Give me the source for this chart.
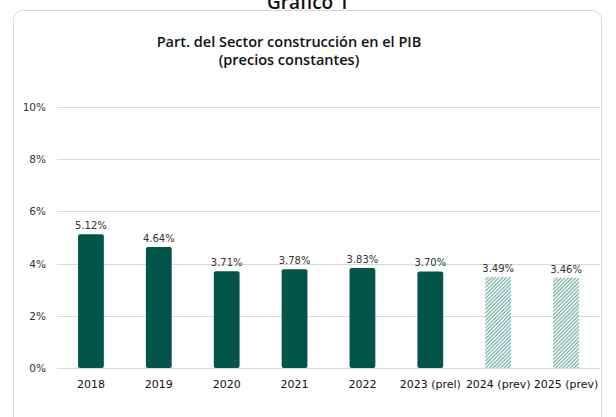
<!DOCTYPE html>
<html lang="es">
  <head>
    <meta charset="UTF-8" />
    <title>Gráfico 1</title>
    <script src="https://d3js.org/d3.v7.min.js"></script>
    <style>
      body {
        margin: 0;
        background: #fff;
        font-family: "DejaVu Sans", sans-serif;
      }
    </style>
  </head>
  <body>
    <div id="chart"></div>
    <script>
      // Data
      const years = ["2018", "2019", "2020", "2021", "2022", "2023 (prel)", "2024 (prev)", "2025 (prev)"];
      const shares = [5.12, 4.64, 3.71, 3.78, 3.83, 3.70, 3.49, 3.46];
      const isForecast = [false, false, false, false, false, false, true, true];
      const yTicks = [0, 2, 4, 6, 8, 10];

      const width = 616;
      const height = 417;
      const margin = { top: 107, right: 16, bottom: 49, left: 57 };

      const svg = d3
        .select("#chart")
        .append("svg")
        .attr("width", width)
        .attr("height", height);

      const defs = svg.append("defs");
      const pattern = defs
        .append("pattern")
        .attr("id", "hatch")
        .attr("patternUnits", "userSpaceOnUse")
        .attr("width", 2.6)
        .attr("height", 2.6)
        .attr("patternTransform", "rotate(45)");
      pattern.append("rect").attr("width", 2.6).attr("height", 2.6).attr("fill", "#e6f2ef");
      pattern
        .append("line")
        .attr("x1", 0).attr("y1", 0).attr("x2", 0).attr("y2", 2.6)
        .attr("stroke", "#3f8c7e")
        .attr("stroke-width", 1.3);

      // outer title (cut off at top, as in the source)
      svg
        .append("text")
        .attr("x", 308)
        .attr("y", 9)
        .attr("text-anchor", "middle")
        .attr("font-size", 19)
        .attr("font-family", "Open Sans, sans-serif")
        .attr("font-weight", 600)
        .attr("fill", "#111")
        .text("Gráfico 1");

      // card
      svg
        .append("rect")
        .attr("x", 13.5)
        .attr("y", 10.5)
        .attr("width", 588)
        .attr("height", 430)
        .attr("rx", 9)
        .attr("fill", "#fff")
        .attr("stroke", "#d9d9d9");

      const title = svg
        .append("text")
        .attr("text-anchor", "middle")
        .attr("font-size", 14.5)
        .attr("font-family", "Open Sans, sans-serif")
        .attr("font-weight", 600)
        .attr("fill", "#111");
      title.append("tspan").attr("x", 289).attr("y", 47).text("Part. del Sector construcción en el PIB");
      title.append("tspan").attr("x", 289).attr("y", 65).text("(precios constantes)");

      const x = d3
        .scaleBand()
        .domain(years)
        .range([margin.left, width - margin.right])
        .paddingInner(0.62)
        .paddingOuter(0.31);

      const y = d3
        .scaleLinear()
        .domain([0, 10])
        .range([height - margin.bottom, margin.top]);

      // gridlines
      svg
        .append("g")
        .selectAll("line")
        .data(yTicks)
        .join("line")
        .attr("x1", margin.left)
        .attr("x2", width - margin.right)
        .attr("y1", (d) => Math.round(y(d)) + 0.5)
        .attr("y2", (d) => Math.round(y(d)) + 0.5)
        .attr("stroke", "#d9d9d9");

      svg
        .append("g")
        .selectAll("text")
        .data(yTicks)
        .join("text")
        .attr("x", 46)
        .attr("y", (d) => y(d) + 4)
        .attr("text-anchor", "end")
        .attr("font-size", 10.5)
        .attr("fill", "#333")
        .text((d) => d + "%");

      // bars
      svg
        .append("g")
        .selectAll("rect")
        .data(years)
        .join("rect")
        .attr("x", (d) => x(d))
        .attr("y", (d, i) => y(shares[i]))
        .attr("width", x.bandwidth())
        .attr("height", (d, i) => y(0) - y(shares[i]))
        .attr("rx", (d, i) => (isForecast[i] ? 0 : 2))
        .attr("fill", (d, i) => (isForecast[i] ? "url(#hatch)" : "#02554a"));

      // value labels
      svg
        .append("g")
        .selectAll("text")
        .data(years)
        .join("text")
        .attr("x", (d) => x(d) + x.bandwidth() / 2)
        .attr("y", (d, i) => y(shares[i]) - 5)
        .attr("text-anchor", "middle")
        .attr("font-size", 10)
        .attr("fill", "#333")
        .text((d, i) => shares[i].toFixed(2) + "%");

      // category labels
      svg
        .append("g")
        .selectAll("text")
        .data(years)
        .join("text")
        .attr("x", (d) => x(d) + x.bandwidth() / 2)
        .attr("y", 388)
        .attr("text-anchor", "middle")
        .attr("font-size", 11)
        .attr("fill", "#111")
        .text((d) => d);
    </script>
  </body>
</html>
